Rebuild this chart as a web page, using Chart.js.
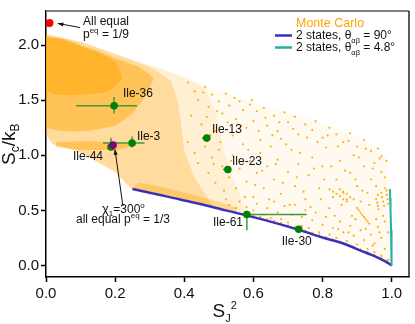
<!DOCTYPE html>
<html>
<head>
<meta charset="utf-8">
<script src="https://cdn.jsdelivr.net/npm/chart.js@4.4.0/dist/chart.umd.min.js"></script>
<style>
  html, body { margin: 0; padding: 0; background: #fff; }
</style>
</head>
<body>
<canvas id="chart" width="415" height="324"></canvas>
<script>
// tick values
const xTicks = [0, 0.2, 0.4, 0.6, 0.8, 1.0]
const yTicks = [0, 0.5, 1.0, 1.5, 2.0]

// 2-state curves
const blueX = [0.25, 0.26, 0.28, 0.32, 0.37, 0.44, 0.52, 0.62, 0.73, 0.80, 0.86, 0.91, 0.94, 0.97, 0.99, 1.0]
const blueY = [0.693, 0.688, 0.673, 0.647, 0.611, 0.562, 0.500, 0.423, 0.325, 0.253, 0.199, 0.135, 0.098, 0.056, 0.021, 0.0]
const tealX = [0.9948, 0.9956, 0.9966, 0.9981, 0.999, 1.0]
const tealY = [0.693, 0.611, 0.5, 0.325, 0.199, 0.0]

// Ile residues
const ileNames = ["Ile-36", "Ile-3", "Ile-44", "Ile-13", "Ile-23", "Ile-61", "Ile-30"]
const ileX = [0.197, 0.249, 0.188, 0.465, 0.526, 0.581, 0.731]
const ileY = [1.449, 1.111, 1.075, 1.156, 0.871, 0.462, 0.329]
const ileXLo = [0.087, 0.165, 0.188, 0.451, 0.512, 0.581, 0.731]
const ileXHi = [0.263, 0.285, 0.188, 0.465, 0.526, 0.754, 0.731]
const ileYLo = [1.38, 1.07, 1.05, 1.156, 0.871, 0.32, 0.329]
const ileYHi = [1.53, 1.17, 1.16, 1.156, 0.871, 0.462, 0.329]

// special points
const equal9 = [0.01, 2.2]      // all equal p = 1/9
const equal3 = [0.194, 1.093]   // chi1 = 300, all equal p = 1/3

// Monte Carlo cloud: outline of density zones
const mcOuter = [[0, 2.1], [0.1, 2.03], [0.2, 1.92], [0.3, 1.82], [0.4, 1.71], [0.47, 1.63], [0.55, 1.53], [0.65, 1.43], [0.75, 1.34], [0.85, 1.23], [0.93, 1.12], [0.98, 1.0], [0.995, 0.7], [1.0, 0.0], [0.97, 0.056], [0.91, 0.135], [0.8, 0.253], [0.73, 0.325], [0.62, 0.423], [0.52, 0.5], [0.44, 0.562], [0.37, 0.611], [0.25, 0.69], [0.2, 0.84], [0.15, 0.93], [0.1, 1.02], [0.05, 1.07], [0.02, 1.1], [0, 1.2]]
const mcMid = [[0, 2.1], [0.1, 2.03], [0.2, 1.92], [0.3, 1.82], [0.4, 1.71], [0.46, 1.6], [0.49, 1.4], [0.51, 1.1], [0.54, 0.8], [0.58, 0.46], [0.52, 0.5], [0.44, 0.562], [0.37, 0.611], [0.25, 0.69], [0.2, 0.84], [0.15, 0.93], [0.1, 1.02], [0.05, 1.07], [0.02, 1.1], [0, 1.2]]
const mcMedium = [[0, 2.1], [0.1, 2.03], [0.2, 1.92], [0.3, 1.8], [0.36, 1.68], [0.38, 1.5], [0.39, 1.3], [0.4, 1.05], [0.43, 0.8], [0.48, 0.54], [0.44, 0.565], [0.37, 0.615], [0.25, 0.695], [0.2, 0.85], [0.15, 0.94], [0.1, 1.03], [0.05, 1.08], [0.02, 1.1], [0, 1.2]]
const mcDense = [[0, 2.08], [0.05, 2.06], [0.1, 2.0], [0.15, 1.95], [0.2, 1.88], [0.27, 1.8], [0.31, 1.7], [0.29, 1.55], [0.25, 1.38], [0.2, 1.27], [0.12, 1.22], [0.05, 1.22], [0, 1.26]]
const mcCore = [[0, 2.07], [0.05, 2.05], [0.1, 1.99], [0.15, 1.93], [0.2, 1.85], [0.22, 1.7], [0.18, 1.58], [0.1, 1.55], [0.03, 1.55], [0, 1.6]]
const mcBand = [[0.03, 1.12], [0.1, 1.125], [0.2, 1.12], [0.26, 1.09], [0.2, 1.05], [0.1, 1.05], [0.03, 1.08]]
const mcEdge = [[0.25, 0.7], [0.37, 0.62], [0.45, 0.566], [0.55, 0.49], [0.55, 0.53], [0.45, 0.62], [0.35, 0.7], [0.27, 0.75]]

// Monte Carlo scattered samples in the sparse part
const mcPoints = [
  [0.41, 1.66], [0.43, 1.58], [0.44, 1.5], [0.46, 1.62], [0.47, 1.44], [0.48, 1.55], [0.5, 1.49], [0.51, 1.38], [0.52, 1.56], [0.53, 1.45],
  [0.55, 1.33], [0.56, 1.49], [0.57, 1.41], [0.59, 1.46], [0.6, 1.31], [0.61, 1.4], [0.63, 1.43], [0.64, 1.27], [0.66, 1.36], [0.67, 1.22],
  [0.69, 1.39], [0.7, 1.3], [0.72, 1.35], [0.73, 1.19], [0.75, 1.28], [0.77, 1.23], [0.78, 1.31], [0.8, 1.16], [0.82, 1.25], [0.84, 1.19],
  [0.86, 1.12], [0.88, 1.2], [0.9, 1.08], [0.92, 1.14], [0.94, 1.04], [0.96, 1.06], [0.97, 0.99], [0.42, 1.36], [0.45, 1.28], [0.49, 1.22],
  [0.54, 1.18], [0.58, 1.25], [0.62, 1.14], [0.65, 1.08], [0.68, 1.15], [0.41, 1.12], [0.43, 1.02], [0.44, 0.93], [0.46, 1.08], [0.47, 0.84],
  [0.48, 0.98], [0.49, 0.75], [0.5, 1.05], [0.51, 0.9], [0.53, 0.8], [0.54, 1.0], [0.55, 0.7], [0.56, 0.88], [0.57, 1.1], [0.58, 0.76],
  [0.59, 0.95], [0.6, 0.62], [0.61, 0.84], [0.62, 1.02], [0.63, 0.7], [0.64, 0.9], [0.66, 0.78], [0.67, 0.96], [0.68, 0.65], [0.7, 0.85],
  [0.71, 1.05], [0.72, 0.72], [0.73, 0.92], [0.75, 0.6], [0.76, 0.82], [0.77, 0.98], [0.79, 0.7], [0.8, 0.9], [0.81, 1.07], [0.83, 0.62],
  [0.84, 0.78], [0.85, 0.95], [0.86, 0.66], [0.87, 0.6], [0.88, 0.84], [0.89, 1.0], [0.9, 0.72], [0.91, 0.58], [0.92, 0.9], [0.93, 0.66],
  [0.94, 0.78], [0.95, 0.93], [0.96, 0.64], [0.97, 0.85], [0.98, 0.7], [0.985, 0.95], [0.955, 0.6], [0.958, 0.57], [0.96, 0.54], [0.962, 0.51],
  [0.97, 0.66], [0.972, 0.62], [0.975, 0.58], [0.978, 0.54], [0.985, 0.68], [0.986, 0.64], [0.988, 0.6], [0.99, 0.56], [0.82, 0.69], [0.83, 0.67],
  [0.84, 0.65], [0.85, 0.63], [0.86, 0.6], [0.87, 0.58], [0.85, 0.69], [0.86, 0.67], [0.87, 0.65], [0.88, 0.62], [0.89, 0.6], [0.9, 0.52],
  [0.905, 0.5], [0.91, 0.48], [0.915, 0.46], [0.92, 0.44], [0.925, 0.42], [0.93, 0.4], [0.935, 0.38], [0.52, 0.6], [0.53, 0.55], [0.55, 0.52],
  [0.56, 0.58], [0.58, 0.53], [0.6, 0.5], [0.61, 0.56], [0.63, 0.46], [0.64, 0.52], [0.65, 0.43], [0.66, 0.58], [0.67, 0.48], [0.68, 0.42],
  [0.69, 0.54], [0.7, 0.39], [0.71, 0.46], [0.72, 0.55], [0.74, 0.36], [0.74, 0.44], [0.75, 0.5], [0.76, 0.34], [0.77, 0.41], [0.78, 0.48],
  [0.79, 0.3], [0.8, 0.37], [0.81, 0.44], [0.82, 0.28], [0.82, 0.52], [0.83, 0.34], [0.84, 0.25], [0.85, 0.4], [0.86, 0.3], [0.87, 0.22],
  [0.88, 0.36], [0.89, 0.27], [0.9, 0.19], [0.91, 0.32], [0.92, 0.23], [0.93, 0.15], [0.94, 0.28], [0.95, 0.12], [0.95, 0.2], [0.96, 0.35],
  [0.97, 0.09], [0.97, 0.25], [0.98, 0.15], [0.98, 0.4], [0.99, 0.05], [0.99, 0.3], [0.6, 0.455], [0.62, 0.44], [0.64, 0.42], [0.66, 0.405],
  [0.68, 0.385], [0.7, 0.365], [0.72, 0.345], [0.75, 0.315], [0.77, 0.295], [0.79, 0.275], [0.81, 0.255], [0.83, 0.235], [0.85, 0.215], [0.87, 0.19],
  [0.89, 0.17], [0.91, 0.145], [0.93, 0.12], [0.95, 0.095], [0.97, 0.07], [0.985, 0.045],
  [0.455, 1.57], [0.465, 1.35], [0.475, 1.18], [0.485, 0.92], [0.495, 1.4], [0.505, 1.12], [0.515, 0.68], [0.525, 1.3], [0.535, 0.95], [0.545, 1.52],
  [0.565, 1.27], [0.575, 0.62], [0.585, 1.05], [0.595, 1.5], [0.605, 0.73], [0.615, 1.22], [0.625, 0.86], [0.635, 1.34], [0.645, 0.6], [0.655, 1.18],
  [0.665, 0.92], [0.675, 1.3], [0.685, 0.75], [0.695, 1.1], [0.705, 0.55], [0.715, 1.24], [0.725, 0.8], [0.735, 1.02], [0.745, 0.67], [0.755, 1.16],
  [0.765, 0.53], [0.775, 0.88], [0.785, 1.12], [0.795, 0.6], [0.805, 0.78], [0.815, 1.18], [0.825, 0.9], [0.835, 0.45], [0.845, 1.08], [0.855, 0.55],
  [0.865, 0.86], [0.875, 1.13], [0.885, 0.45], [0.895, 0.78], [0.905, 0.98], [0.915, 0.68], [0.925, 1.06], [0.935, 0.55], [0.945, 0.88], [0.955, 0.72],
  [0.965, 0.97], [0.975, 0.45], [0.98, 0.8], [0.965, 0.3], [0.955, 0.42], [0.945, 0.18], [0.925, 0.33], [0.895, 0.42], [0.875, 0.3], [0.845, 0.33]
]

const FONT = '"Liberation Sans", Arial, sans-serif'
const ORANGE = "rgb(255,165,0)"
const toXY = (arr) => arr.map(([x, y]) => ({ x, y }))
const closed = (arr) => toXY(arr.concat([arr[0]]))

// where the Ile labels sit (data coords of the text's left baseline)
const labelPos = [[0.2225, 1.529], [0.263, 1.138], [0.078, 0.96], [0.48, 1.2], [0.538, 0.916], [0.483, 0.356], [0.682, 0.187]]

function zone(arr, alpha) {
  return {
    data: closed(arr),
    showLine: true,
    fill: "shape",
    tension: 0.15,
    backgroundColor: `rgba(255,165,0,${alpha})`,
    borderColor: "rgba(0,0,0,0)",
    borderWidth: 0,
    pointRadius: 0,
  }
}

// error bars as small line datasets
const errorBars = []
ileNames.forEach((n, i) => {
  if (ileXHi[i] > ileXLo[i]) {
    errorBars.push({ data: [{ x: ileXLo[i], y: ileY[i] }, { x: ileXHi[i], y: ileY[i] }] })
  }
  if (ileYHi[i] > ileYLo[i]) {
    errorBars.push({ data: [{ x: ileX[i], y: ileYLo[i] }, { x: ileX[i], y: ileYHi[i] }] })
  }
})
errorBars.forEach((d) => Object.assign(d, { showLine: true, borderColor: "#3c9c3c", borderWidth: 1.5, pointRadius: 0 }))

function rich(ctx, x, y, parts) {
  let cx = x
  parts.forEach((p) => {
    ctx.font = `${p.size}px ${FONT}`
    ctx.fillText(p.t, cx, y + (p.dy || 0))
    cx += ctx.measureText(p.t).width
  })
}

function arrow(ctx, x1, y1, x2, y2) {
  ctx.beginPath()
  ctx.moveTo(x1, y1)
  ctx.lineTo(x2, y2)
  ctx.stroke()
  const a = Math.atan2(y2 - y1, x2 - x1)
  ctx.beginPath()
  ctx.moveTo(x2, y2)
  ctx.lineTo(x2 - 6 * Math.cos(a - 0.35), y2 - 6 * Math.sin(a - 0.35))
  ctx.lineTo(x2 - 6 * Math.cos(a + 0.35), y2 - 6 * Math.sin(a + 0.35))
  ctx.closePath()
  ctx.fill()
}

const overlay = {
  id: "overlay",
  afterDraw(chart) {
    const { ctx, chartArea: a, scales } = chart
    const px = (v) => scales.x.getPixelForValue(v)
    const py = (v) => scales.y.getPixelForValue(v)
    ctx.save()

    // frame top / right
    ctx.strokeStyle = "#808080"
    ctx.lineWidth = 2
    ctx.beginPath()
    ctx.moveTo(a.left, a.top)
    ctx.lineTo(a.right, a.top)
    ctx.stroke()
    ctx.strokeStyle = "#222"
    ctx.lineWidth = 1.5
    ctx.beginPath()
    ctx.moveTo(a.right, a.top)
    ctx.lineTo(a.right, a.bottom)
    ctx.stroke()

    ctx.fillStyle = "#111"
    ctx.strokeStyle = "#111"
    ctx.lineWidth = 1
    ctx.textBaseline = "alphabetic"
    ctx.textAlign = "left"

    // Ile labels
    ctx.font = `12px ${FONT}`
    ileNames.forEach((n, i) => {
      ctx.fillText(n, px(labelPos[i][0]), py(labelPos[i][1]))
    })

    // annotation: all equal 1/9
    rich(ctx, px(0.107), py(2.187), [{ t: "All equal", size: 12 }])
    rich(ctx, px(0.107), py(2.062), [{ t: "p", size: 12 }, { t: "eq", size: 8, dy: -5 }, { t: " = 1/9", size: 12 }])
    arrow(ctx, px(0.098), py(2.16), px(0.034), py(2.197))

    // annotation: chi1 = 300
    rich(ctx, px(0.162), py(0.48), [{ t: "χ", size: 13 }, { t: "1", size: 8, dy: 3 }, { t: "=300", size: 12 }, { t: "o", size: 8, dy: -5 }])
    rich(ctx, px(0.0867), py(0.382), [{ t: "all equal p", size: 12 }, { t: "eq", size: 8, dy: -5 }, { t: " = 1/3", size: 12 }])
    arrow(ctx, px(0.2225), py(0.54), px(0.1994), py(1.055))

    // legend
    const lx = 275
    ctx.fillStyle = ORANGE
    ctx.font = `12.5px ${FONT}`
    ctx.fillText("Monte Carlo", lx + 21, a.top + 16)
    ctx.lineWidth = 2.5
    ctx.strokeStyle = "#3b2fbf"
    ctx.beginPath()
    ctx.moveTo(lx, a.top + 24.5)
    ctx.lineTo(lx + 17, a.top + 24.5)
    ctx.stroke()
    ctx.strokeStyle = "#20b2a5"
    ctx.beginPath()
    ctx.moveTo(lx, a.top + 36.5)
    ctx.lineTo(lx + 17, a.top + 36.5)
    ctx.stroke()
    ctx.fillStyle = "#111"
    rich(ctx, lx + 21, a.top + 28, [{ t: "2 states, θ", size: 12 }, { t: "αβ", size: 7.5, dy: 4 }, { t: " = 90°", size: 12 }])
    rich(ctx, lx + 21, a.top + 40, [{ t: "2 states, θ", size: 12 }, { t: "αβ", size: 7.5, dy: 4 }, { t: " = 4.8°", size: 12 }])

    // axis titles
    rich(ctx, (a.left + a.right) / 2 - 15, 317, [{ t: "S", size: 19 }, { t: "J", size: 11, dy: 5 }, { t: "2", size: 11, dy: -8 }])
    ctx.save()
    ctx.translate(15, (a.top + a.bottom) / 2 + 21)
    ctx.rotate(-Math.PI / 2)
    rich(ctx, 0, 0, [{ t: "S", size: 19 }, { t: "c", size: 12, dy: 4 }, { t: "/k", size: 19 }, { t: "B", size: 12, dy: 4 }])
    ctx.restore()

    ctx.restore()
  },
}

new Chart(document.getElementById("chart"), {
  type: "scatter",
  data: {
    datasets: [
      { data: [{ x: equal9[0], y: equal9[1] }], backgroundColor: "#ff0000", borderWidth: 0, pointRadius: 4 },
      { data: [{ x: equal3[0], y: equal3[1] }], backgroundColor: "#800080", borderWidth: 0, pointRadius: 3.8 },
      { data: ileX.map((x, i) => ({ x, y: ileY[i] })), backgroundColor: "#008000", borderWidth: 0, pointRadius: 3.8 },
      ...errorBars,
      { data: tealX.map((x, i) => ({ x, y: tealY[i] })), showLine: true, borderColor: "#20b2a5", borderWidth: 2, pointRadius: 0 },
      { data: blueX.map((x, i) => ({ x, y: blueY[i] })), showLine: true, borderColor: "#3b2fbf", borderWidth: 2.5, pointRadius: 0, tension: 0.3 },
      { data: toXY(mcPoints), backgroundColor: "rgba(255,165,0,0.9)", borderWidth: 0, pointRadius: 1.1 },
      zone(mcEdge, 0.35),
      zone(mcBand, 0.45),
      zone(mcCore, 0.5),
      zone(mcDense, 0.45),
      zone(mcMedium, 0.25),
      zone(mcMid, 0.12),
      zone(mcOuter, 0.06),
    ],
  },
  options: {
    responsive: false,
    animation: false,
    events: [],
    layout: { padding: { left: 0, right: 6, top: 5, bottom: 0 } },
    plugins: { legend: { display: false }, tooltip: { enabled: false } },
    scales: {
      x: {
        type: "linear",
        min: 0,
        max: 1.05,
        afterBuildTicks: (axis) => { axis.ticks = xTicks.map((v) => ({ value: v })) },
        afterFit: (axis) => { axis.height = 47 },
        grid: { drawOnChartArea: false, tickLength: 5, tickColor: "#000", tickWidth: 1.5 },
        border: { color: "#000", width: 1.5 },
        ticks: { color: "#111", padding: 3, maxRotation: 0, font: { family: FONT, size: 15 }, callback: (v) => v.toFixed(1) },
      },
      y: {
        type: "linear",
        min: -0.105,
        max: 2.31,
        afterBuildTicks: (axis) => { axis.ticks = yTicks.map((v) => ({ value: v })) },
        afterFit: (axis) => { axis.width = 46 },
        grid: { drawOnChartArea: false, tickLength: 5, tickColor: "#000", tickWidth: 1.5 },
        border: { color: "#000", width: 1.5 },
        ticks: { color: "#111", padding: 2, font: { family: FONT, size: 15 }, callback: (v) => v.toFixed(1) },
      },
    },
  },
  plugins: [overlay],
})
</script>
</body>
</html>
